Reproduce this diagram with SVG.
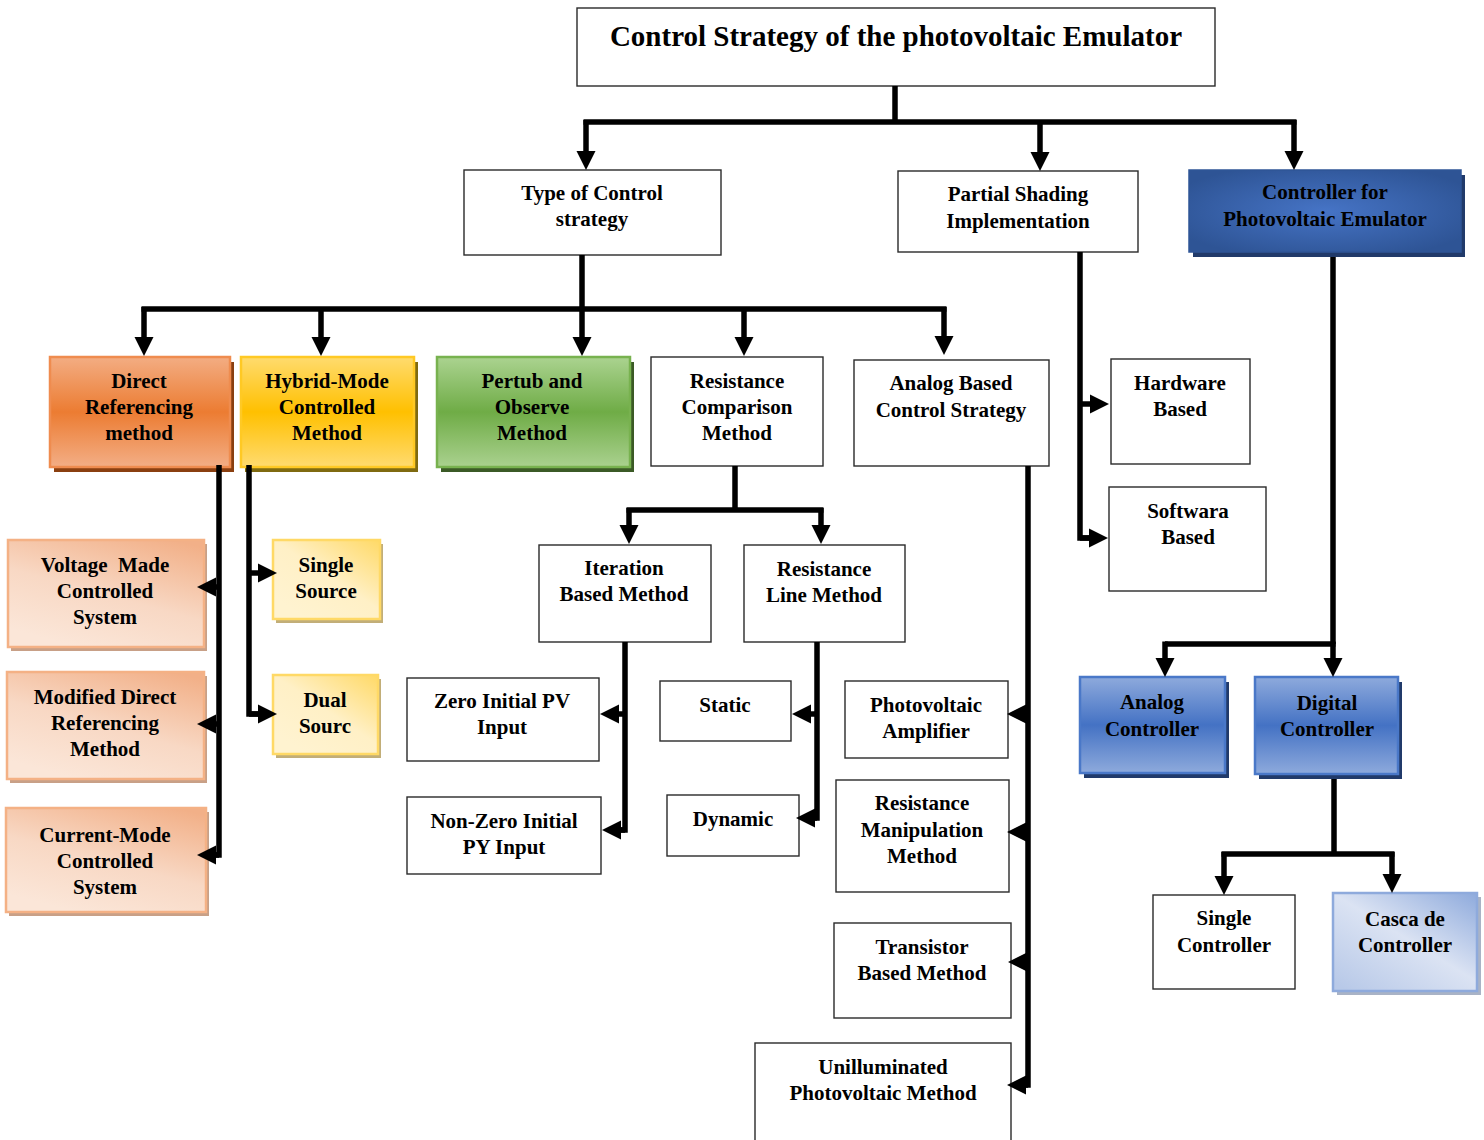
<svg xmlns="http://www.w3.org/2000/svg" width="1484" height="1140" viewBox="0 0 1484 1140">
  <defs>
    <style>
      .plain { fill: #ffffff; stroke: #2a2a2a; stroke-width: 1.4; }
      .lbl { font-family: "Liberation Serif", "Times New Roman", serif; font-weight: bold; font-size: 21px; fill: #000; text-anchor: middle; }
      .ttl { font-family: "Liberation Serif", "Times New Roman", serif; font-weight: bold; font-size: 29px; fill: #000; text-anchor: middle; }
      .wire { fill: none; stroke: #000; stroke-width: 5.5; stroke-linejoin: miter; stroke-linecap: butt; }
      .arr { fill: none; stroke: #000; stroke-width: 5.5; marker-end: url(#head); }
      .sh-orange { fill: #8a3f10; }
      .sh-yellow { fill: #7f6a10; }
      .sh-green { fill: #3b5a26; }
      .sh-blue { fill: #213a6a; }
      .sh-lorange { fill: #c8a087; }
      .sh-lyellow { fill: #c2ae78; }
      .sh-lblue { fill: #a9b3c6; }
    </style>
    <marker id="head" markerUnits="userSpaceOnUse" markerWidth="20" markerHeight="20" refX="0" refY="10" orient="auto" overflow="visible">
      <path d="M0,0.5 L19,10 L0,19.5 z" fill="#000"/>
    </marker>
    <linearGradient id="gOrange" x1="0" y1="0" x2="0" y2="1">
      <stop offset="0" stop-color="#f3ad83"/>
      <stop offset="0.5" stop-color="#ec7c32"/>
      <stop offset="1" stop-color="#f3ae86"/>
    </linearGradient>
    <linearGradient id="gYellow" x1="0" y1="0" x2="0" y2="1">
      <stop offset="0" stop-color="#ffdb6e"/>
      <stop offset="0.5" stop-color="#ffc000"/>
      <stop offset="1" stop-color="#ffdb70"/>
    </linearGradient>
    <linearGradient id="gGreen" x1="0" y1="0" x2="0" y2="1">
      <stop offset="0" stop-color="#abd390"/>
      <stop offset="0.5" stop-color="#6fac46"/>
      <stop offset="1" stop-color="#aad18f"/>
    </linearGradient>
    <linearGradient id="gBlue" x1="0" y1="0" x2="0" y2="1">
      <stop offset="0" stop-color="#8eaadc"/>
      <stop offset="0.5" stop-color="#4472c4"/>
      <stop offset="1" stop-color="#8eaadc"/>
    </linearGradient>
    <radialGradient id="gDeepBlue" cx="0.5" cy="0.5" r="0.6">
      <stop offset="0" stop-color="#4674c6"/>
      <stop offset="1" stop-color="#2e5495"/>
    </radialGradient>
    <linearGradient id="gLOrange" x1="0.85" y1="0" x2="0.35" y2="1">
      <stop offset="0" stop-color="#f2b088"/>
      <stop offset="0.55" stop-color="#f8d8c4"/>
      <stop offset="1" stop-color="#fbe6d8"/>
    </linearGradient>
    <linearGradient id="gLYellow" x1="1" y1="0" x2="0.2" y2="0.9">
      <stop offset="0" stop-color="#ffd966"/>
      <stop offset="0.55" stop-color="#fff0c6"/>
      <stop offset="1" stop-color="#fff3d0"/>
    </linearGradient>
    <linearGradient id="gLBlue" x1="1" y1="0" x2="0.1" y2="1">
      <stop offset="0" stop-color="#8eaadc"/>
      <stop offset="0.5" stop-color="#dbe3f3"/>
      <stop offset="1" stop-color="#b8c9e8"/>
    </linearGradient>
  </defs>

  <rect width="1484" height="1140" fill="#ffffff"/>

  <!-- nodes -->
  <g id="n-title">
    <rect class="plain" x="577" y="8" width="638" height="78"/>
    <text class="ttl" x="896" y="46">Control Strategy of the photovoltaic Emulator</text>
  </g>

  <g id="n-type">
    <rect class="plain" x="464" y="170" width="257" height="85"/>
    <text class="lbl" x="592" y="200">Type of Control</text>
    <text class="lbl" x="592" y="226">strategy</text>
  </g>

  <g id="n-partial">
    <rect class="plain" x="898" y="171" width="240" height="81"/>
    <text class="lbl" x="1018" y="201">Partial Shading</text>
    <text class="lbl" x="1018" y="228">Implementation</text>
  </g>

  <g id="n-controller">
    <rect class="sh-blue" x="1193" y="175" width="272" height="82"/>
    <rect x="1189" y="170" width="272" height="82" fill="url(#gDeepBlue)" stroke="#2f5597" stroke-width="1.5"/>
    <text class="lbl" x="1325" y="199">Controller for</text>
    <text class="lbl" x="1325" y="226">Photovoltaic Emulator</text>
  </g>

  <g id="n-direct">
    <rect class="sh-orange" x="54" y="362" width="180" height="110"/>
    <rect x="50" y="357" width="180" height="110" fill="url(#gOrange)" stroke="#ef8c4f" stroke-width="2.5"/>
    <text class="lbl" x="139" y="388">Direct</text>
    <text class="lbl" x="139" y="414">Referencing</text>
    <text class="lbl" x="139" y="440">method</text>
  </g>

  <g id="n-hybrid">
    <rect class="sh-yellow" x="245" y="362" width="173" height="110"/>
    <rect x="241" y="357" width="173" height="110" fill="url(#gYellow)" stroke="#ffc924" stroke-width="2.5"/>
    <text class="lbl" x="327" y="388">Hybrid-Mode</text>
    <text class="lbl" x="327" y="414">Controlled</text>
    <text class="lbl" x="327" y="440">Method</text>
  </g>

  <g id="n-pno">
    <rect class="sh-green" x="441" y="362" width="193" height="110"/>
    <rect x="437" y="357" width="193" height="110" fill="url(#gGreen)" stroke="#78b24f" stroke-width="2.5"/>
    <text class="lbl" x="532" y="388">Pertub and</text>
    <text class="lbl" x="532" y="414">Observe</text>
    <text class="lbl" x="532" y="440">Method</text>
  </g>

  <g id="n-rescomp">
    <rect class="plain" x="651" y="357" width="172" height="109"/>
    <text class="lbl" x="737" y="388">Resistance</text>
    <text class="lbl" x="737" y="414">Comparison</text>
    <text class="lbl" x="737" y="440">Method</text>
  </g>

  <g id="n-analogbased">
    <rect class="plain" x="854" y="360" width="195" height="106"/>
    <text class="lbl" x="951" y="390">Analog Based</text>
    <text class="lbl" x="951" y="417">Control Strategy</text>
  </g>

  <g id="n-hardware">
    <rect class="plain" x="1111" y="359" width="139" height="105"/>
    <text class="lbl" x="1180" y="390">Hardware</text>
    <text class="lbl" x="1180" y="416">Based</text>
  </g>

  <g id="n-software">
    <rect class="plain" x="1109" y="487" width="157" height="104"/>
    <text class="lbl" x="1188" y="518">Softwara</text>
    <text class="lbl" x="1188" y="544">Based</text>
  </g>

  <g id="n-voltage">
    <rect class="sh-lorange" x="11" y="544" width="196" height="107"/>
    <rect x="8" y="540" width="196" height="107" fill="url(#gLOrange)" stroke="#f4b185" stroke-width="2.5"/>
    <text class="lbl" x="105" y="572" style="white-space:pre">Voltage  Made</text>
    <text class="lbl" x="105" y="598">Controlled</text>
    <text class="lbl" x="105" y="624">System</text>
  </g>

  <g id="n-modified">
    <rect class="sh-lorange" x="10" y="676" width="197" height="107"/>
    <rect x="7" y="672" width="197" height="107" fill="url(#gLOrange)" stroke="#f4b185" stroke-width="2.5"/>
    <text class="lbl" x="105" y="704">Modified Direct</text>
    <text class="lbl" x="105" y="730">Referencing</text>
    <text class="lbl" x="105" y="756">Method</text>
  </g>

  <g id="n-current">
    <rect class="sh-lorange" x="9" y="812" width="200" height="104"/>
    <rect x="6" y="808" width="200" height="104" fill="url(#gLOrange)" stroke="#f4b185" stroke-width="2.5"/>
    <text class="lbl" x="105" y="842">Current-Mode</text>
    <text class="lbl" x="105" y="868">Controlled</text>
    <text class="lbl" x="105" y="894">System</text>
  </g>

  <g id="n-singlesource">
    <rect class="sh-lyellow" x="276" y="544" width="107" height="79"/>
    <rect x="273" y="540" width="107" height="79" fill="url(#gLYellow)" stroke="#ffd966" stroke-width="2.5"/>
    <text class="lbl" x="326" y="572">Single</text>
    <text class="lbl" x="326" y="598">Source</text>
  </g>

  <g id="n-dualsource">
    <rect class="sh-lyellow" x="276" y="679" width="105" height="79"/>
    <rect x="273" y="675" width="105" height="79" fill="url(#gLYellow)" stroke="#ffd966" stroke-width="2.5"/>
    <text class="lbl" x="325" y="707">Dual</text>
    <text class="lbl" x="325" y="733">Sourc</text>
  </g>

  <g id="n-iteration">
    <rect class="plain" x="539" y="545" width="172" height="97"/>
    <text class="lbl" x="624" y="575">Iteration</text>
    <text class="lbl" x="624" y="601">Based Method</text>
  </g>

  <g id="n-resline">
    <rect class="plain" x="744" y="545" width="161" height="97"/>
    <text class="lbl" x="824" y="576">Resistance</text>
    <text class="lbl" x="824" y="602">Line Method</text>
  </g>

  <g id="n-zero">
    <rect class="plain" x="407" y="678" width="192" height="83"/>
    <text class="lbl" x="502" y="708">Zero Initial PV</text>
    <text class="lbl" x="502" y="734">Input</text>
  </g>

  <g id="n-nonzero">
    <rect class="plain" x="407" y="797" width="194" height="77"/>
    <text class="lbl" x="504" y="828">Non-Zero Initial</text>
    <text class="lbl" x="504" y="854">PY Input</text>
  </g>

  <g id="n-static">
    <rect class="plain" x="660" y="681" width="131" height="60"/>
    <text class="lbl" x="725" y="712">Static</text>
  </g>

  <g id="n-dynamic">
    <rect class="plain" x="667" y="795" width="132" height="61"/>
    <text class="lbl" x="733" y="826">Dynamic</text>
  </g>

  <g id="n-pvamp">
    <rect class="plain" x="845" y="681" width="163" height="77"/>
    <text class="lbl" x="926" y="712">Photovoltaic</text>
    <text class="lbl" x="926" y="738">Amplifier</text>
  </g>

  <g id="n-resmanip">
    <rect class="plain" x="836" y="780" width="173" height="112"/>
    <text class="lbl" x="922" y="810">Resistance</text>
    <text class="lbl" x="922" y="837">Manipulation</text>
    <text class="lbl" x="922" y="863">Method</text>
  </g>

  <g id="n-transistor">
    <rect class="plain" x="834" y="923" width="177" height="95"/>
    <text class="lbl" x="922" y="954">Transistor</text>
    <text class="lbl" x="922" y="980">Based Method</text>
  </g>

  <g id="n-unillum">
    <rect class="plain" x="755" y="1043" width="256" height="102"/>
    <text class="lbl" x="883" y="1074">Unilluminated</text>
    <text class="lbl" x="883" y="1100">Photovoltaic Method</text>
  </g>

  <g id="n-analogctrl">
    <rect class="sh-blue" x="1084" y="682" width="145" height="96"/>
    <rect x="1080" y="677" width="145" height="96" fill="url(#gBlue)" stroke="#4a78c8" stroke-width="2.5"/>
    <text class="lbl" x="1152" y="709">Analog</text>
    <text class="lbl" x="1152" y="736">Controller</text>
  </g>

  <g id="n-digitalctrl">
    <rect class="sh-blue" x="1259" y="682" width="143" height="97"/>
    <rect x="1255" y="677" width="143" height="97" fill="url(#gBlue)" stroke="#4a78c8" stroke-width="2.5"/>
    <text class="lbl" x="1327" y="710">Digital</text>
    <text class="lbl" x="1327" y="736">Controller</text>
  </g>

  <g id="n-singlectrl">
    <rect class="plain" x="1153" y="895" width="142" height="94"/>
    <text class="lbl" x="1224" y="925">Single</text>
    <text class="lbl" x="1224" y="952">Controller</text>
  </g>

  <g id="n-cascade">
    <rect class="sh-lblue" x="1337" y="897" width="144" height="98"/>
    <rect x="1333" y="893" width="144" height="98" fill="url(#gLBlue)" stroke="#8eaadc" stroke-width="2.5"/>
    <text class="lbl" x="1405" y="926">Casca de</text>
    <text class="lbl" x="1405" y="952">Controller</text>
  </g>

  <!-- connectors -->
  <g id="connectors">
    <!-- from the title box -->
    <path class="wire" d="M895,86 V122"/>
    <path class="wire" d="M583.5,122 H1296.5"/>
    <path class="arr" d="M586,120 V151"/>
    <path class="arr" d="M1040,120 V152"/>
    <path class="arr" d="M1294,120 V151"/>

    <!-- from the control strategy type box -->
    <path class="wire" d="M582,255 V309"/>
    <path class="wire" d="M141.5,309 H946.5"/>
    <path class="arr" d="M144,307 V337"/>
    <path class="arr" d="M321,307 V337"/>
    <path class="arr" d="M582,307 V337"/>
    <path class="arr" d="M744,307 V337"/>
    <path class="arr" d="M944,307 V336"/>

    <!-- direct referencing branch -->
    <path class="wire" d="M219,465 V855 H215"/>
    <path class="arr" d="M219,855 H216"/>
    <path class="arr" d="M219,587 H216"/>
    <path class="arr" d="M219,724 H216"/>

    <!-- hybrid-mode branch -->
    <path class="wire" d="M249,465 V714 H258"/>
    <path class="arr" d="M249,714 H258"/>
    <path class="arr" d="M249,573 H258"/>

    <!-- resistance comparison branch -->
    <path class="wire" d="M735,466 V510"/>
    <path class="wire" d="M626.5,510 H823.5"/>
    <path class="arr" d="M629,508 V525"/>
    <path class="arr" d="M821,508 V525"/>

    <!-- iteration based branch -->
    <path class="wire" d="M625,642 V830 H620"/>
    <path class="arr" d="M625,830 H621"/>
    <path class="arr" d="M625,714 H619"/>

    <!-- resistance line branch -->
    <path class="wire" d="M817,642 V818 H815"/>
    <path class="arr" d="M817,818 H815"/>
    <path class="arr" d="M817,714 H811"/>

    <!-- analog based branch -->
    <path class="wire" d="M1028,466 V1085 H1026"/>
    <path class="arr" d="M1028,1085 H1026"/>
    <path class="arr" d="M1028,714 H1026"/>
    <path class="arr" d="M1028,832 H1026"/>
    <path class="arr" d="M1028,962 H1027"/>

    <!-- partial shading branch -->
    <path class="wire" d="M1080,252 V538 H1089"/>
    <path class="arr" d="M1080,538 H1089"/>
    <path class="arr" d="M1080,404 H1090"/>

    <!-- controller branch -->
    <path class="wire" d="M1333,257 V644"/>
    <path class="wire" d="M1335.5,644 H1165"/>
    <path class="arr" d="M1333,642 V658"/>
    <path class="arr" d="M1165,641.5 V658"/>

    <!-- digital controller branch -->
    <path class="wire" d="M1334,779 V854"/>
    <path class="wire" d="M1221.5,854 H1394.5"/>
    <path class="arr" d="M1224,852 V876"/>
    <path class="arr" d="M1392,852 V874"/>
  </g>
</svg>
